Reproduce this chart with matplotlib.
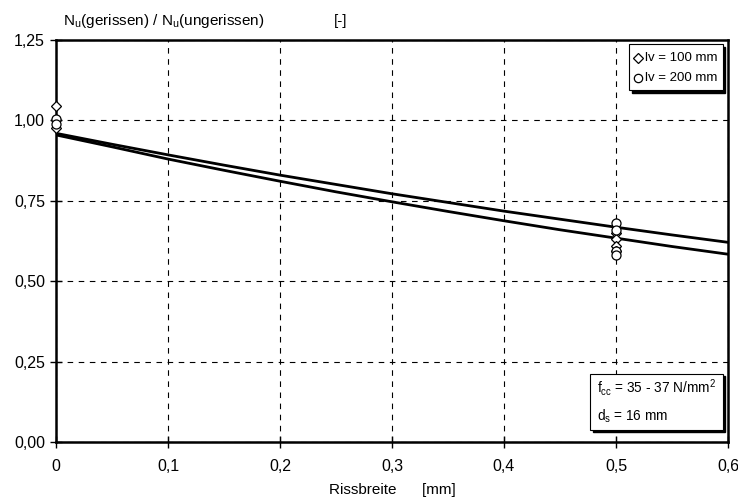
import matplotlib
matplotlib.use("Agg")
import matplotlib.pyplot as plt
from matplotlib.ticker import FuncFormatter

plt.rcParams['font.family'] = ['Liberation Sans', 'DejaVu Sans']

# data
x_lv100 = [0, 0, 0, 0.5, 0.5, 0.5, 0.5]
y_lv100 = [1.045, 1.0, 0.975, 0.65, 0.63, 0.61, 0.595]
x_lv200 = [0, 0, 0.5, 0.5, 0.5, 0.5]
y_lv200 = [1.005, 0.99, 0.68, 0.66, 0.595, 0.58]

trend_x = [0, 0.05, 0.1, 0.15, 0.2, 0.25, 0.3, 0.35, 0.4, 0.45, 0.5, 0.55, 0.6]
trend_upper = [0.960, 0.926, 0.893, 0.861, 0.830, 0.801, 0.772, 0.745, 0.718, 0.693, 0.668, 0.644, 0.621]
trend_lower = [0.955, 0.918, 0.880, 0.845, 0.811, 0.778, 0.747, 0.717, 0.688, 0.660, 0.634, 0.608, 0.584]

xticks = [0, 0.1, 0.2, 0.3, 0.4, 0.5, 0.6]
yticks = [0, 0.25, 0.5, 0.75, 1.0, 1.25]

fig = plt.figure(figsize=(7.38, 5.01), dpi=100)
ax = fig.add_axes([0.0759, 0.1178, 0.9105, 0.8022])

ax.plot(trend_x, trend_upper, color='black', lw=2, zorder=3)
ax.plot(trend_x, trend_lower, color='black', lw=2, zorder=3)
ax.plot(x_lv100, y_lv100, linestyle='none', marker='D', markersize=5.5,
        markerfacecolor='white', markeredgecolor='black', markeredgewidth=0.9, zorder=4, clip_on=False)
ax.plot(x_lv200, y_lv200, linestyle='none', marker='o', markersize=6.5,
        markerfacecolor='white', markeredgecolor='black', markeredgewidth=0.9, zorder=4, clip_on=False)

ax.set_xlim(0, 0.6)
ax.set_ylim(0, 1.25)
ax.set_xticks(xticks)
ax.set_yticks(yticks)

def fmt_x(v, pos):
    if abs(v) < 1e-9:
        return '0'
    return ('%.1f' % v).replace('.', ',')

def fmt_y(v, pos):
    return ('%.2f' % v).replace('.', ',')

ax.xaxis.set_major_formatter(FuncFormatter(fmt_x))
ax.yaxis.set_major_formatter(FuncFormatter(fmt_y))
ax.tick_params(axis='both', direction='inout', length=8, width=1, labelsize=11.5, colors='black')
ax.tick_params(axis='x', pad=8)
ax.tick_params(axis='y', pad=4)

ax.grid(True, color='black', linestyle=(0, (5, 5)), linewidth=0.8)
for s in ax.spines.values():
    s.set_linewidth(1.8)
    s.set_color('black')

ax.set_xlabel('Rissbreite      [mm]', fontsize=11, labelpad=7)
fig.text(0.085, 0.958, 'N$_\\mathregular{u}$(gerissen) / N$_\\mathregular{u}$(ungerissen)',
         fontsize=11, ha='left', va='center')
fig.text(0.452, 0.958, '[-]', fontsize=11, ha='left', va='center')

def shadow_box(x0, y0, w, h):
    sh = plt.Rectangle((x0 + 0.004, y0 - 0.006), w, h, transform=ax.transAxes,
                       facecolor='black', edgecolor='black', zorder=5, clip_on=False)
    bx = plt.Rectangle((x0, y0), w, h, transform=ax.transAxes,
                       facecolor='white', edgecolor='black', linewidth=0.8, zorder=6, clip_on=False)
    ax.add_patch(sh)
    ax.add_patch(bx)

# legend
shadow_box(0.853, 0.875, 0.139, 0.115)
ax.plot([0.866], [0.955], transform=ax.transAxes, marker='D', markersize=5,
        markerfacecolor='white', markeredgecolor='black', markeredgewidth=0.9, zorder=7, clip_on=False)
ax.plot([0.866], [0.905], transform=ax.transAxes, marker='o', markersize=6,
        markerfacecolor='white', markeredgecolor='black', markeredgewidth=0.9, zorder=7, clip_on=False)
ax.text(0.877, 0.955, 'lv = 100 mm', transform=ax.transAxes, fontsize=9.5, va='center', zorder=7)
ax.text(0.877, 0.905, 'lv = 200 mm', transform=ax.transAxes, fontsize=9.5, va='center', zorder=7)

# material info box
shadow_box(0.795, 0.03, 0.197, 0.14)
ax.text(0.805, 0.135, 'f$_\\mathregular{cc}$ = 35 - 37 N/mm$^\\mathregular{2}$', transform=ax.transAxes,
        fontsize=9.8, va='center', zorder=7)
ax.text(0.805, 0.065, 'd$_\\mathregular{s}$ = 16 mm', transform=ax.transAxes,
        fontsize=9.8, va='center', zorder=7)

fig.savefig('out.png', dpi=100)
